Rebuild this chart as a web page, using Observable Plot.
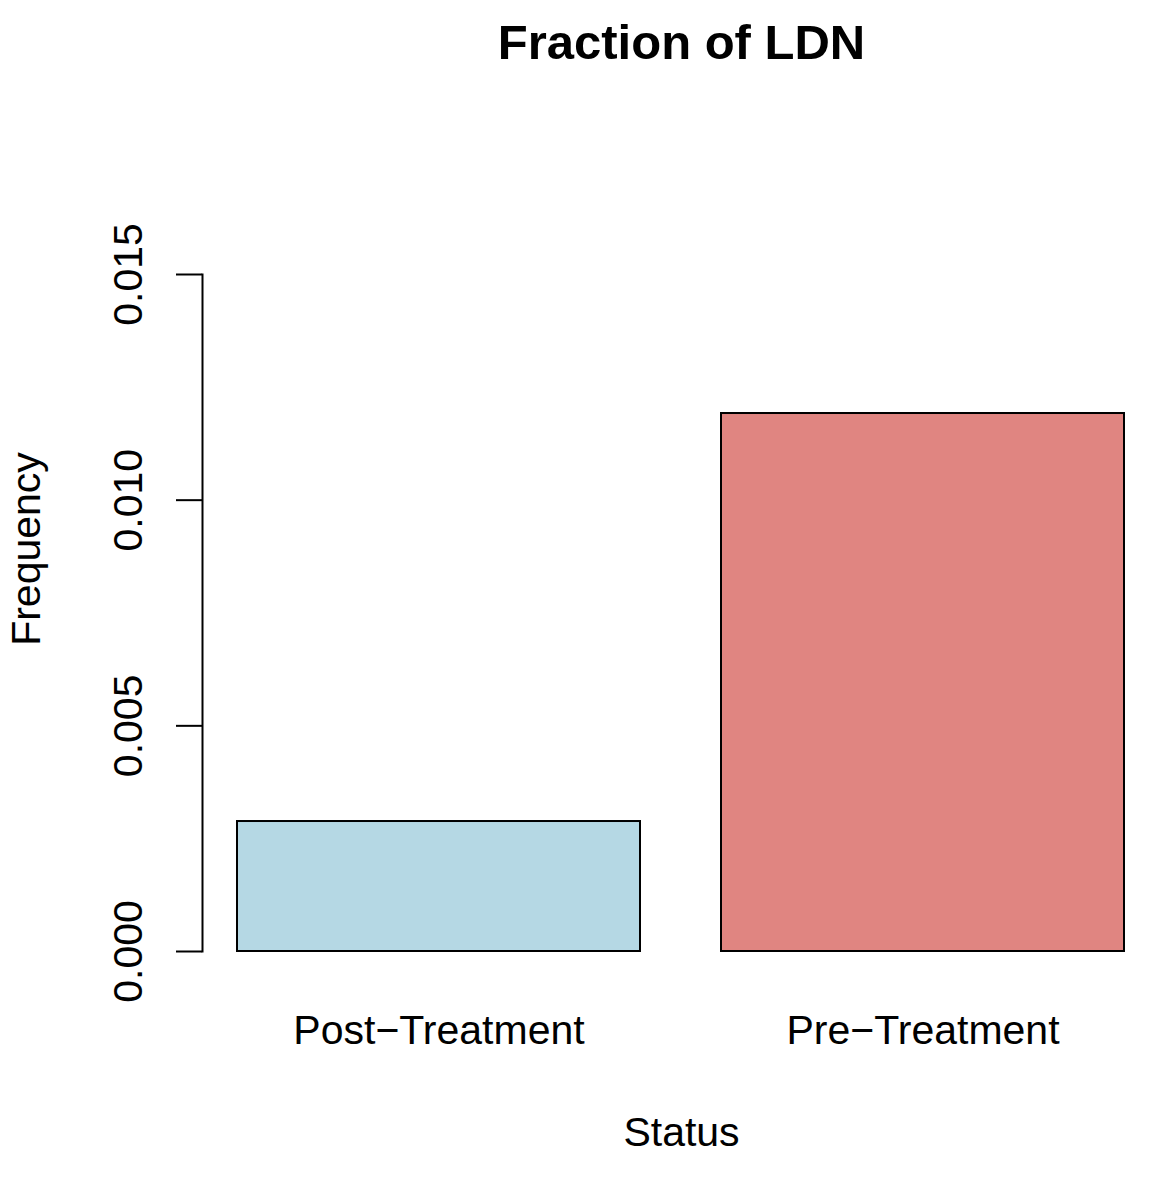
<!DOCTYPE html>
<html><head><meta charset="utf-8">
<script src="https://cdn.jsdelivr.net/npm/d3@7"></script>
<script src="https://cdn.jsdelivr.net/npm/@observablehq/plot@0.6"></script>
<style>body{margin:0;background:#fff}</style>
</head><body><div id="chart"></div>
<script>
const statuses = ["Post−Treatment", "Pre−Treatment"];
const frequencies = [0.00288, 0.01192];
const barColors = ["#b5d8e4", "#e08581"];
const yTicks = [0, 0.005, 0.010, 0.015];
const title = "Fraction of LDN";
const xLabel = "Status";
const yLabel = "Frequency";

const data = statuses.map((s, i) => ({status: s, value: frequencies[i]}));

const chart = Plot.plot({
  width: 1174, height: 1180,
  marginTop: 274, marginBottom: 229, marginLeft: 202, marginRight: 14,
  style: {fontFamily: "'Liberation Sans', Arial, Helvetica, sans-serif", background: "#fff", color: "#000"},
  x: {domain: statuses, paddingInner: 0.2 / 1.2, paddingOuter: 0, insetLeft: 35, insetRight: 35},
  y: {domain: [0, 0.015]},
  color: {domain: statuses, range: barColors},
  marks: [
    Plot.barY(data, {x: "status", y: "value", fill: "status", stroke: "#000", strokeWidth: 2}),
    Plot.frame({anchor: "left", strokeWidth: 2, stroke: "#000"}),
    Plot.axisY({ticks: yTicks, tickFormat: d3.format(".3f"), tickSize: 26, tickPadding: 35, tickRotate: -90, fontSize: 41, strokeWidth: 2, label: null}),
    Plot.axisX({tickSize: 0, tickPadding: 63, fontSize: 41, label: null}),
    Plot.text([title], {frameAnchor: "top", lineAnchor: "top", dy: -250, fontSize: 49, fontWeight: "bold", fill: "#000"}),
    Plot.text([xLabel], {frameAnchor: "bottom", lineAnchor: "top", dy: 165, fontSize: 41, fill: "#000"}),
    Plot.text([yLabel], {frameAnchor: "left", textAnchor: "middle", lineAnchor: "bottom", rotate: -90, dx: -163, dy: -64, fontSize: 41, fill: "#000"})
  ]
});
document.getElementById("chart").appendChild(chart);
</script>
</body></html>
